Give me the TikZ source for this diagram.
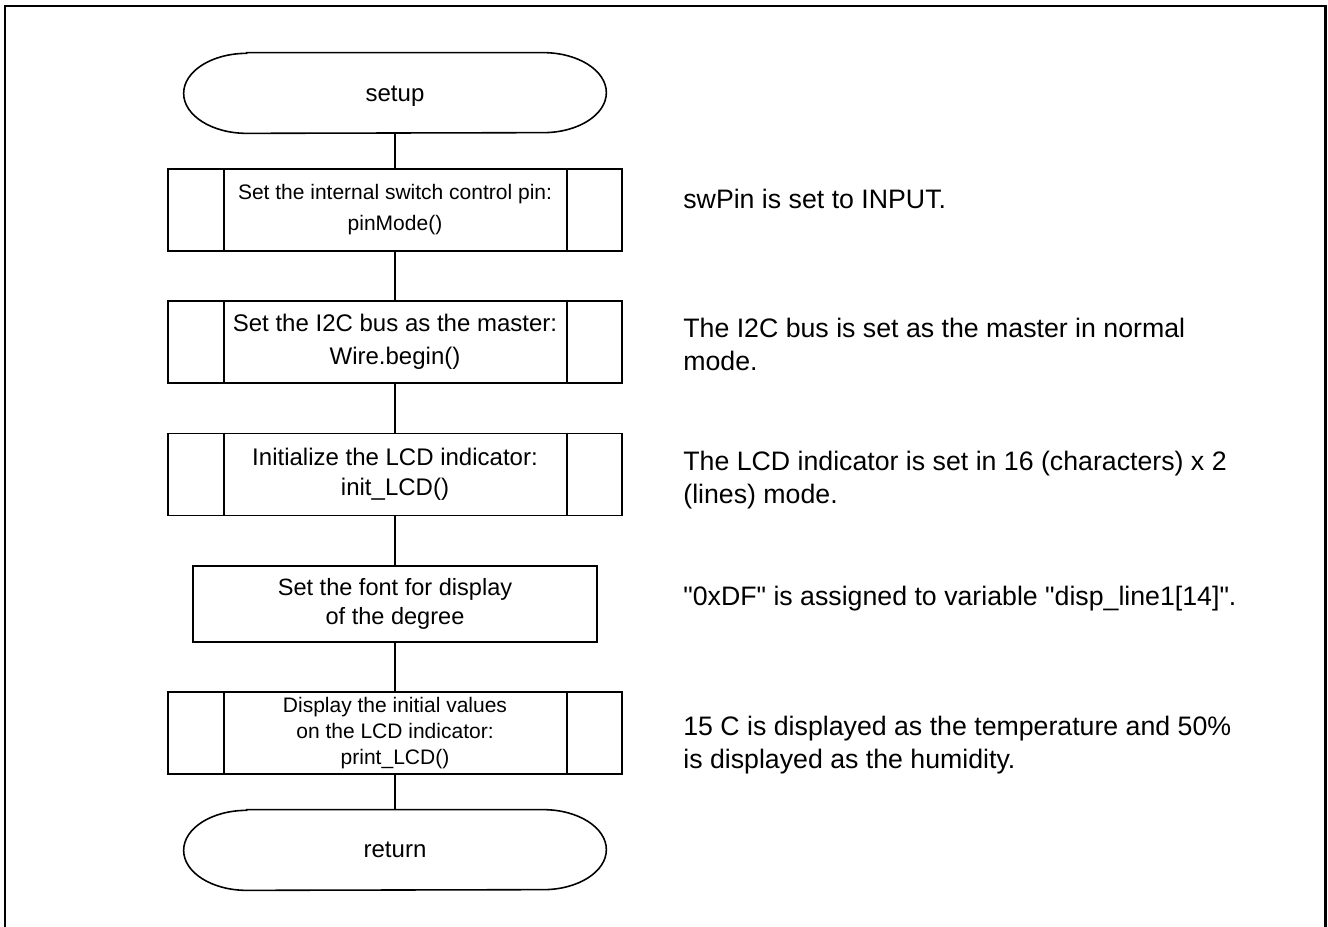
\documentclass[tikz,border=0pt]{standalone}
\usepackage{fontspec}
\setmainfont{Liberation Sans}

\begin{document}
\begin{tikzpicture}[
    terminal/.style={minimum width=8.44cm, minimum height=1.6cm, inner sep=0pt, font=\fontsize{13.66pt}{16pt}\selectfont},
    subbox/.style={draw, line width=0.9pt, minimum width=9.08cm, minimum height=1.64cm, inner sep=0pt, align=center},
    procbox/.style={draw, line width=0.9pt, minimum width=8.08cm, minimum height=1.52cm, inner sep=0pt, align=center},
    note/.style={anchor=north west, inner sep=0pt, align=left, font=\fontsize{15.2pt}{18.8pt}\selectfont},
    link/.style={line width=0.9pt}
]
    \useasboundingbox (0,0) rectangle (26.56,-18.54);

    % Outer frame, open at the bottom
    \draw[line width=1.7pt] (0.1,-18.7) -- (0.1,-0.12) -- (26.5,-0.12) -- (26.5,-18.7);

    % Flow chart nodes
    \node[terminal, text height=1.2em] (setup) at (7.9,-1.86) {setup};
    \node[subbox, font=\fontsize{11.95pt}{17.6pt}\selectfont] (pin) at (7.9,-4.2) {Set the internal switch control pin:\\pinMode()};
    \node[subbox, font=\fontsize{13.66pt}{18.8pt}\selectfont] (wire) at (7.9,-6.84) {Set the I2C bus as the master:\\Wire.begin()};
    \node[subbox, font=\fontsize{13.66pt}{17pt}\selectfont] (lcd) at (7.9,-9.49) {Initialize the LCD indicator:\\init\_LCD()};
    \node[procbox, font=\fontsize{13.4pt}{16.5pt}\selectfont] (degree) at (7.9,-12.08) {Set the font for display\\of the degree};
    \node[subbox, font=\fontsize{11.95pt}{14.8pt}\selectfont] (show) at (7.9,-14.66) {Display the initial values\\on the LCD indicator:\\print\_LCD()};
    \node[terminal] (ret) at (7.9,-17.0) {return};

    % Terminal outlines
    \foreach \t in {setup,ret} {
        \draw[link] ([xshift=1.26cm]\t.north west) -- ([xshift=-1.26cm]\t.north east)
            arc[start angle=90, end angle=-90, x radius=1.26cm, y radius=0.8cm]
            -- ([xshift=1.26cm]\t.south west)
            arc[start angle=270, end angle=90, x radius=1.26cm, y radius=0.8cm] -- cycle;
    }

    % Side bars of the predefined process boxes
    \foreach \n in {pin,wire,lcd,show} {
        \draw[link] ([xshift=1.14cm]\n.north west) -- ([xshift=1.14cm]\n.south west);
        \draw[link] ([xshift=-1.12cm]\n.north east) -- ([xshift=-1.12cm]\n.south east);
    }

    % Draw the edges between nodes
    \draw[link] (setup) -- (pin);
    \draw[link] (pin) -- (wire);
    \draw[link] (wire) -- (lcd);
    \draw[link] (lcd) -- (degree);
    \draw[link] (degree) -- (show);
    \draw[link] (show) -- (ret);

    % Notes on the right
    \node[note] (n1) at (13.66,-3.77) {swPin is set to INPUT.};
    \node[note] (n2) at (13.66,-6.35) {The I2C bus is set as the master in normal\\mode.};
    \node[note] (n3) at (13.66,-9.01) {The LCD indicator is set in 16 (characters) x 2\\(lines) mode.};
    \node[note] (n4) at (13.66,-11.72) {\textquotedbl 0xDF\textquotedbl{} is assigned to variable \textquotedbl disp\_line1[14]\textquotedbl .};
    \node[note] (n5) at (13.66,-14.32) {15 C is displayed as the temperature and 50\%\\is displayed as the humidity.};
\end{tikzpicture}
\end{document}
